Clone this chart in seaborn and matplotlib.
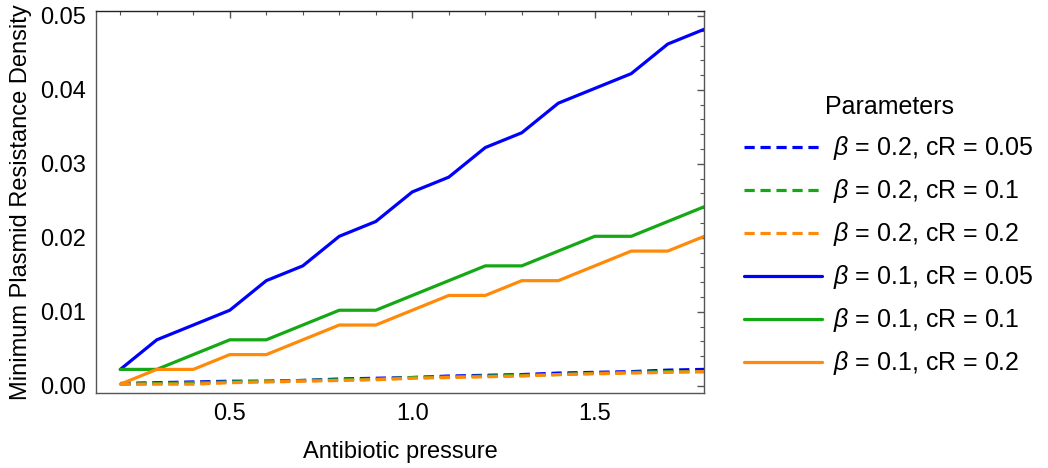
import numpy as np
import pandas as pd
import matplotlib
matplotlib.use("Agg")
import matplotlib.pyplot as plt
from matplotlib.ticker import MultipleLocator, FormatStrFormatter
import seaborn as sns

# Antibiotic pressure grid
pressure = [0.2, 0.3, 0.4, 0.5, 0.6, 0.7, 0.8, 0.9, 1.0,
            1.1, 1.2, 1.3, 1.4, 1.5, 1.6, 1.7, 1.8]

# Minimum plasmid resistance density per parameter set
b02_c005 = [0.0003, 0.0004, 0.0005, 0.0006, 0.0006, 0.0007, 0.0009, 0.0010, 0.0011,
            0.0013, 0.0014, 0.0015, 0.0017, 0.0018, 0.0019, 0.0021, 0.0022]
b02_c01 = [0.0002, 0.0003, 0.0004, 0.0005, 0.0006, 0.0007, 0.0008, 0.0009, 0.0011,
           0.0012, 0.0013, 0.0014, 0.0015, 0.0017, 0.0018, 0.0019, 0.0019]
b02_c02 = [0.0002, 0.0002, 0.0002, 0.0004, 0.0005, 0.0006, 0.0007, 0.0008, 0.0010,
           0.0011, 0.0012, 0.0013, 0.0015, 0.0016, 0.0017, 0.0018, 0.0019]
b01_c005 = [0.0022, 0.0062, 0.0082, 0.0102, 0.0142, 0.0162, 0.0202, 0.0222, 0.0262,
            0.0282, 0.0322, 0.0342, 0.0382, 0.0402, 0.0422, 0.0462, 0.0482]
b01_c01 = [0.0022, 0.0022, 0.0042, 0.0062, 0.0062, 0.0082, 0.0102, 0.0102, 0.0122,
           0.0142, 0.0162, 0.0162, 0.0182, 0.0202, 0.0202, 0.0222, 0.0242]
b01_c02 = [0.0002, 0.0022, 0.0022, 0.0042, 0.0042, 0.0062, 0.0082, 0.0082, 0.0102,
           0.0122, 0.0122, 0.0142, 0.0142, 0.0162, 0.0182, 0.0182, 0.0202]

labels = [r"$\beta$ = 0.2, cR = 0.05", r"$\beta$ = 0.2, cR = 0.1", r"$\beta$ = 0.2, cR = 0.2",
          r"$\beta$ = 0.1, cR = 0.05", r"$\beta$ = 0.1, cR = 0.1", r"$\beta$ = 0.1, cR = 0.2"]
series = [b02_c005, b02_c01, b02_c02, b01_c005, b01_c01, b01_c02]
colors = ["#0000ff", "#14a814", "#ff8a0a", "#0000ff", "#14a814", "#ff8a0a"]
dashed = [True, True, True, False, False, False]

frames = []
for lab, vals in zip(labels, series):
    frames.append(pd.DataFrame({"pressure": pressure, "density": vals, "Parameters": lab}))
df = pd.concat(frames, ignore_index=True)

sns.set_theme(style="white")
plt.rcParams["font.family"] = ["Liberation Sans", "DejaVu Sans"]
plt.rcParams["mathtext.fontset"] = "custom"
plt.rcParams["mathtext.it"] = "Liberation Sans:italic"
plt.rcParams["text.color"] = "black"
plt.rcParams["axes.labelcolor"] = "black"

fig = plt.figure(figsize=(10.48, 4.68), dpi=100)
ax = fig.add_axes([0.0913, 0.1603, 0.5807, 0.8167])

sns.lineplot(data=df, x="pressure", y="density", hue="Parameters", style="Parameters",
             hue_order=labels, style_order=labels, palette=dict(zip(labels, colors)),
             dashes={l: ((3.2, 1.8) if d else "") for l, d in zip(labels, dashed)},
             linewidth=2.3, ax=ax, legend=True)

ax.set_xlim(0.1325, 1.80)
ax.set_ylim(-0.00099, 0.0507)
ax.xaxis.set_major_locator(MultipleLocator(0.5))
ax.xaxis.set_minor_locator(MultipleLocator(0.1))
ax.yaxis.set_major_locator(MultipleLocator(0.01))
ax.yaxis.set_minor_locator(MultipleLocator(0.002))
ax.xaxis.set_major_formatter(FormatStrFormatter("%.1f"))
ax.yaxis.set_major_formatter(FormatStrFormatter("%.2f"))

for side in ["left", "right", "top", "bottom"]:
    ax.spines[side].set_visible(True)
    ax.spines[side].set_color("#555555")
    ax.spines[side].set_linewidth(1.0)
ax.spines["top"].set_color("#222222")

ax.tick_params(which="both", direction="in", top=True, right=True,
               labeltop=False, labelright=False, color="#555555",
               labelsize=17, labelcolor="black", pad=7)
ax.tick_params(which="major", length=5, width=1.0)
ax.tick_params(which="minor", length=3, width=0.8)

ax.set_xlabel("Antibiotic pressure", fontsize=17, labelpad=12)
ax.set_ylabel("Minimum Plasmid Resistance Density", fontsize=17, labelpad=6)

handles, labs = ax.get_legend_handles_labels()
leg = ax.legend(handles, labs, title="Parameters", loc="center left",
                bbox_to_anchor=(1.029, 0.41), frameon=False, fontsize=18, title_fontsize=18,
                handlelength=3.1, handletextpad=0.45, labelspacing=0.6)
for t in leg.get_texts():
    t.set_color("black")
leg.get_title().set_color("black")

fig.savefig("out.png", dpi=100)
